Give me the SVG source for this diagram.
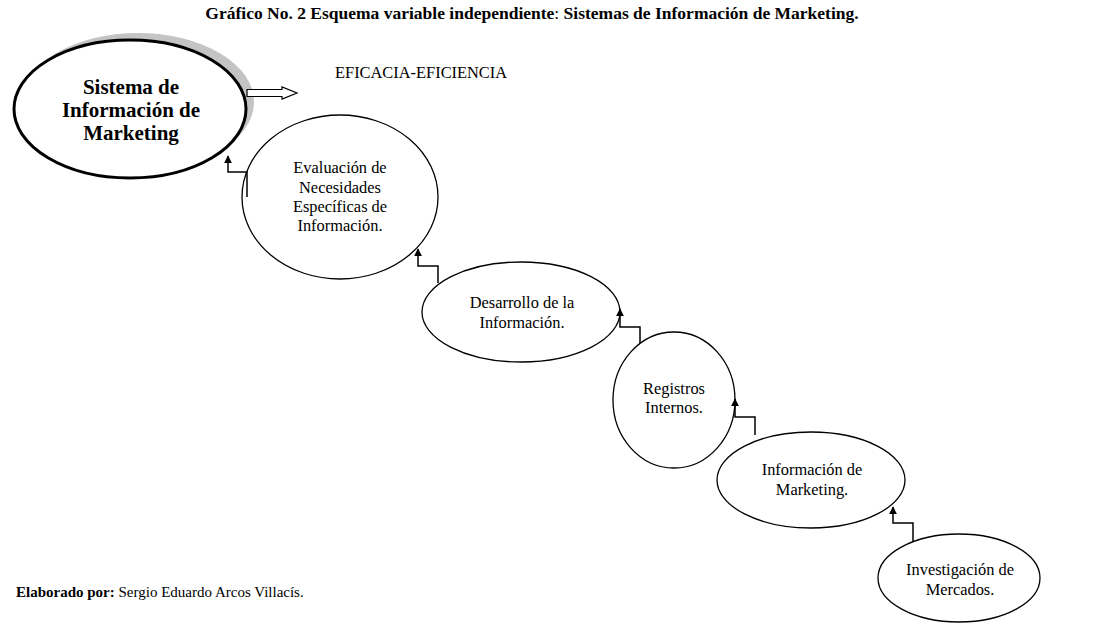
<svg xmlns="http://www.w3.org/2000/svg" width="1105" height="623" viewBox="0 0 1105 623" font-family="'Liberation Serif', 'Times New Roman', serif">
<defs>
<marker id="ah" viewBox="0 0 10 10" refX="9" refY="5" markerWidth="8" markerHeight="8" markerUnits="userSpaceOnUse" orient="auto">
<path d="M0,0 L10,5 L0,10 Z" fill="#000"/>
</marker>
</defs>
<style>
.n{font-size:16.4px;text-anchor:middle}
.node ellipse{fill:#fff;stroke:#000;stroke-width:1.3}
.con path{fill:none;stroke:#000;stroke-width:1.5}
</style>
<rect width="1105" height="623" fill="#fff"/>
<text x="532" y="19" text-anchor="middle" font-size="17.5" font-weight="bold">Gráfico No. 2 Esquema variable independiente<tspan font-weight="normal">:</tspan> Sistemas de Información de Marketing.</text>
<g id="main">
<ellipse cx="138" cy="102" rx="116" ry="69" fill="#c4c4c4"/>
<ellipse cx="130" cy="109" rx="116" ry="69" fill="#fff" stroke="#000" stroke-width="3"/>
<text x="131" y="94" text-anchor="middle" font-size="21" font-weight="bold">Sistema de</text>
<text x="131" y="117" text-anchor="middle" font-size="21" font-weight="bold">Información de</text>
<text x="131" y="140" text-anchor="middle" font-size="21" font-weight="bold">Marketing</text>
</g>
<g id="arrow-eficacia">
<path d="M247,89.5 L282,89.5 L282,87 L297,93 L282,99 L282,96.5 L247,96.5 Z" fill="#fff" stroke="#000" stroke-width="1.2"/>
<text x="335" y="78" font-size="16.4">EFICACIA-EFICIENCIA</text>
</g>
<g id="n1" class="node">
<ellipse cx="340" cy="197" rx="98" ry="82"/>
<text class="n" x="340" y="173">Evaluación de</text>
<text class="n" x="340" y="193">Necesidades</text>
<text class="n" x="340" y="212">Específicas de</text>
<text class="n" x="340" y="231">Información.</text>
</g>
<g id="n2" class="node">
<ellipse cx="521" cy="312" rx="99" ry="50"/>
<text class="n" x="522" y="308">Desarrollo de la</text>
<text class="n" x="522" y="328">Información.</text>
</g>
<g id="n3" class="node">
<ellipse cx="674" cy="400" rx="61" ry="68"/>
<text class="n" x="674" y="394">Registros</text>
<text class="n" x="674" y="413">Internos.</text>
</g>
<g id="n4" class="node">
<ellipse cx="811" cy="480" rx="94" ry="48"/>
<text class="n" x="812" y="475">Información de</text>
<text class="n" x="812" y="495">Marketing.</text>
</g>
<g id="n5" class="node">
<ellipse cx="959" cy="578" rx="81" ry="44"/>
<text class="n" x="960" y="575">Investigación de</text>
<text class="n" x="960" y="595">Mercados.</text>
</g>
<g id="connectors" class="con">
<path d="M247,197 L247,172 L228,172 L228,156" marker-end="url(#ah)"/>
<path d="M438,283 L438,266 L418,266 L418,249" marker-end="url(#ah)"/>
<path d="M640,343 L640,327 L620,327 L620,309" marker-end="url(#ah)"/>
<path d="M755,435 L755,417 L735,417 L735,399" marker-end="url(#ah)"/>
<path d="M913,542 L913,523 L893,523 L893,507" marker-end="url(#ah)"/>
</g>
<text x="16" y="597" font-size="15"><tspan font-weight="bold">Elaborado por:</tspan> Sergio Eduardo Arcos Villacís.</text>
</svg>
